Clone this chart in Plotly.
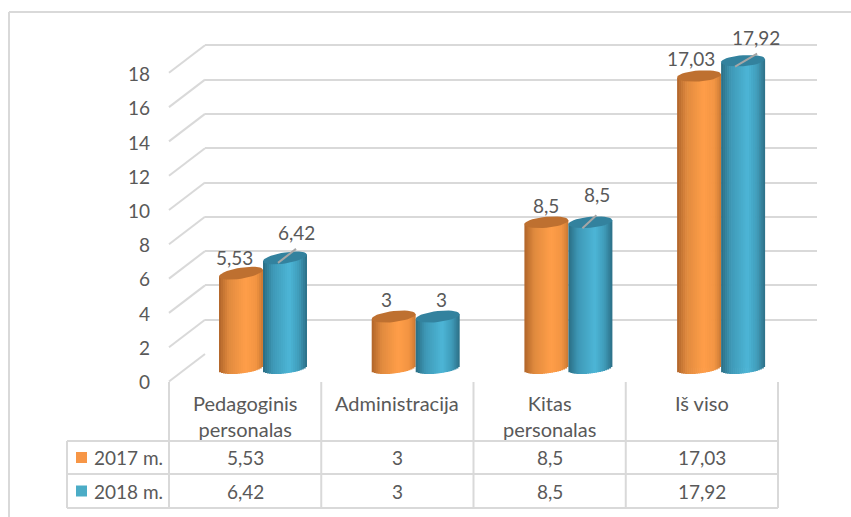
import math
import plotly.graph_objects as go

categories = ["Pedagoginis<br>personalas", "Administracija", "Kitas<br>personalas", "Iš viso"]
series_names = ["2017 m.", "2018 m."]
v2017 = [5.53, 3, 8.5, 17.03]
v2018 = [6.42, 3, 8.5, 17.92]
y_ticks = list(range(0, 20, 2))

W, H = 851, 517
FONT = "Lato"
TEXT = "#595959"
GRID = "#D9D9D9"
FS = 19
UNIT = 17.15          # pixels per value unit
CAT = 152.7           # pixels per category
BASE_Y = 368          # pixel row of value 0 in the middle of the depth
CX0 = 263             # pixel column of first category
BW = 44 / CAT         # cylinder width in category units
A, B, SLOPE = 22, 5.5, 0.12
TOP_SLOPES = [0.15, 0.11, 0.09, 0.07]
N = 22

def px(x): return x / W
def py(y): return 1 - y / H
def lerp_hex(stops, t):
    for (t0, c0), (t1, c1) in zip(stops, stops[1:]):
        if t <= t1:
            f = (t - t0) / (t1 - t0)
            a = [int(c0[i:i+2], 16) for i in (1, 3, 5)]
            b = [int(c1[i:i+2], 16) for i in (1, 3, 5)]
            return "rgb(%d,%d,%d)" % tuple(round(p + (q - p) * f) for p, q in zip(a, b))
    return stops[-1][1]

styles = [
    dict(off=-BW, mid="#F79646", top="#BE7030",
         stops=[(0, "#B0642A"), (.22, "#E08A3E"), (.6, "#FF9E49"), (.85, "#F29442"), (1, "#C97833")]),
    dict(off=0.0, mid="#4BACC6", top="#33829E",
         stops=[(0, "#2A6C83"), (.22, "#3E98B6"), (.6, "#4DB6D7"), (.82, "#3F9BB9"), (1, "#2B6E85")]),
]

fig = go.Figure()
# back wall subplot (drawn first so that its grid lies behind the cylinders)
fig.add_trace(go.Scatter(x=[0], y=[0], mode="markers", marker=dict(opacity=0), hoverinfo="skip",
                         showlegend=False, xaxis="x", yaxis="y"))

all_vals = [v2017, v2018]
xs = list(range(len(categories)))
for s, vals in enumerate(all_vals):
    st = styles[s]
    fig.add_trace(go.Bar(x=xs, y=vals, name=series_names[s], width=BW * 0.5, offset=st["off"] + BW * 0.25,
                         marker=dict(color=st["mid"], line=dict(width=0)), showlegend=False,
                         xaxis="x2", yaxis="y2"))
    w = BW / N
    for k in range(N):
        t = (k + .5) / N * 2 - 1
        d_bot = (B * math.sqrt(max(0, 1 - t * t)) - SLOPE * A * t) / UNIT
        base = [-d_bot for _ in vals]
        ys = [v + TOP_SLOPES[i] * A * t / UNIT + d_bot for i, v in enumerate(vals)]
        fig.add_trace(go.Bar(x=xs, y=ys, base=base, width=w * (1.35 if k < N - 1 else 1), offset=st["off"] + k * w,
                             marker=dict(color=lerp_hex(st["stops"], (k + .5) / N), line=dict(width=0)),
                             hoverinfo="skip", showlegend=False, xaxis="x2", yaxis="y2"))
    for i, v in enumerate(vals):
        ex, ey = [], []
        for a in range(0, 361, 10):
            c, n = math.cos(math.radians(a)), math.sin(math.radians(a))
            ex.append(i + st["off"] + BW / 2 + c * BW / 2)
            ey.append(v + (B * n + TOP_SLOPES[i] * A * c) / UNIT)
        fig.add_trace(go.Scatter(x=ex, y=ey, mode="lines", fill="toself", fillcolor=st["top"],
                                 line=dict(width=0, color=st["top"]), hoverinfo="skip", showlegend=False,
                                 xaxis="x2", yaxis="y2"))

# leader lines of the blue labels: index, start and end offset in pixels from the top centre
leaders = [(0, -7, 5, 11, -9), (2, -8, 6, 6, -7), (3, -8, 6, 14, -7)]
for i, dx0, dy0, dx1, dy1 in leaders:
    cx = i + BW / 2
    fig.add_trace(go.Scatter(x=[cx + dx0 / CAT, cx + dx1 / CAT],
                             y=[v2018[i] - dy0 / UNIT, v2018[i] - dy1 / UNIT], mode="lines",
                             line=dict(color="#A6A6A6", width=2), hoverinfo="skip", showlegend=False,
                             xaxis="x2", yaxis="y2"))

# front axis with the value tick labels
fig.add_trace(go.Scatter(x=[0], y=[0], mode="markers", marker=dict(opacity=0), hoverinfo="skip",
                         showlegend=False, xaxis="x3", yaxis="y3"))

def fmt(v): return str(v).replace(".", ",")

annotations = []
# data labels: pixel offsets from the top centre of each cylinder
label_off = [[(-7, -16), (-7, -17), (0, -17), (-8, -17)],
             [(11, -25), (4, -17), (7, -28), (13, -23)]]
for s, vals in enumerate(all_vals):
    for i, v in enumerate(vals):
        dx, dy = label_off[s][i]
        annotations.append(dict(x=i + styles[s]["off"] + BW / 2, y=v, xref="x2", yref="y2", text=fmt(v),
                                showarrow=False, xshift=dx, yshift=-dy, xanchor="center", yanchor="middle",
                                font=dict(family=FONT, size=FS, color=TEXT)))

col_x = [169 + 152.25 * i for i in range(5)]
row_y = [441, 474, 508]
for i, c in enumerate(categories):
    cx = (col_x[i] + col_x[i + 1]) / 2
    yc = 415.5 if "<br>" in c else 402.5
    annotations.append(dict(x=px(cx), y=py(yc), xref="paper", yref="paper", text=c, showarrow=False,
                            xanchor="center", yanchor="middle", align="center",
                            font=dict(family=FONT, size=20, color=TEXT)))
    for r, vals in enumerate(all_vals):
        annotations.append(dict(x=px(cx), y=py((row_y[r] + row_y[r + 1]) / 2), xref="paper", yref="paper",
                                text=fmt(vals[i]), showarrow=False, xanchor="center", yanchor="middle",
                                font=dict(family=FONT, size=FS, color=TEXT)))

shapes = []
def line(x0, y0, x1, y1, color=GRID, width=2):
    shapes.append(dict(type="line", xref="paper", yref="paper", x0=px(x0), y0=py(y0), x1=px(x1), y1=py(y1),
                       line=dict(color=color, width=width), layer="below"))

# frame
line(9, 12, W, 12)
line(9, 12, 9, H)
# side wall diagonals
for t in y_ticks:
    line(169, 381.5 - UNIT * t, 205, 354 - UNIT * t)
# table
for x in col_x:
    line(x, 382, x, row_y[-1])
line(67, row_y[0], 67, row_y[-1])
for y in row_y:
    line(67, y, col_x[-1], y)
# legend keys in the table
for r, name in enumerate(series_names):
    yc = (row_y[r] + row_y[r + 1]) / 2
    shapes.append(dict(type="rect", xref="paper", yref="paper", x0=px(76), x1=px(87), y0=py(yc - 5.5), y1=py(yc + 5.5),
                       fillcolor=styles[r]["mid"], line=dict(width=0)))
    annotations.append(dict(x=px(92), y=py(yc), xref="paper", yref="paper", text=name, showarrow=False,
                            xanchor="left", yanchor="middle", font=dict(family=FONT, size=FS, color=TEXT)))

fig.update_layout(
    width=W, height=H, margin=dict(l=0, r=0, t=0, b=0, pad=0, autoexpand=False), autosize=False,
    paper_bgcolor="white", plot_bgcolor="rgba(0,0,0,0)", barmode="overlay", showlegend=False,
    shapes=shapes, annotations=annotations,
    # back wall: value 0 at pixel 354, value 18 at pixel 354 - 18 * UNIT (range runs past 18 so its grid line is kept)
    xaxis=dict(domain=[px(205), px(817)], range=[0, 1], visible=False, fixedrange=True),
    yaxis=dict(domain=[py(354), py(354 - 19 * UNIT)], range=[0, 19], tickvals=y_ticks, showticklabels=False,
               showgrid=True, gridcolor=GRID, gridwidth=2, zeroline=False, showline=False, ticks="", fixedrange=True),
    # cylinders
    xaxis2=dict(domain=[px(CX0 - CAT / 2), px(CX0 + 3.5 * CAT)], range=[-.5, 3.5], visible=False, anchor="y2", fixedrange=True),
    yaxis2=dict(domain=[py(BASE_Y + UNIT), py(BASE_Y - 20 * UNIT)], range=[-1, 20], visible=False, anchor="x2", fixedrange=True),
    # front axis carrying the tick labels
    xaxis3=dict(domain=[px(155), px(169)], range=[0, 1], visible=False, anchor="y3", fixedrange=True),
    yaxis3=dict(domain=[py(382.5), py(382.5 - 18 * 17.11)], range=[0, 18], tickvals=y_ticks, anchor="x3", showgrid=False,
                zeroline=False, showline=False, ticks="", tickfont=dict(family=FONT, size=FS, color=TEXT),
                ticklabelstandoff=4, fixedrange=True),
)
fig.write_html("out.html", config=dict(displayModeBar=False),
               post_script="document.body.style.margin='0';")
